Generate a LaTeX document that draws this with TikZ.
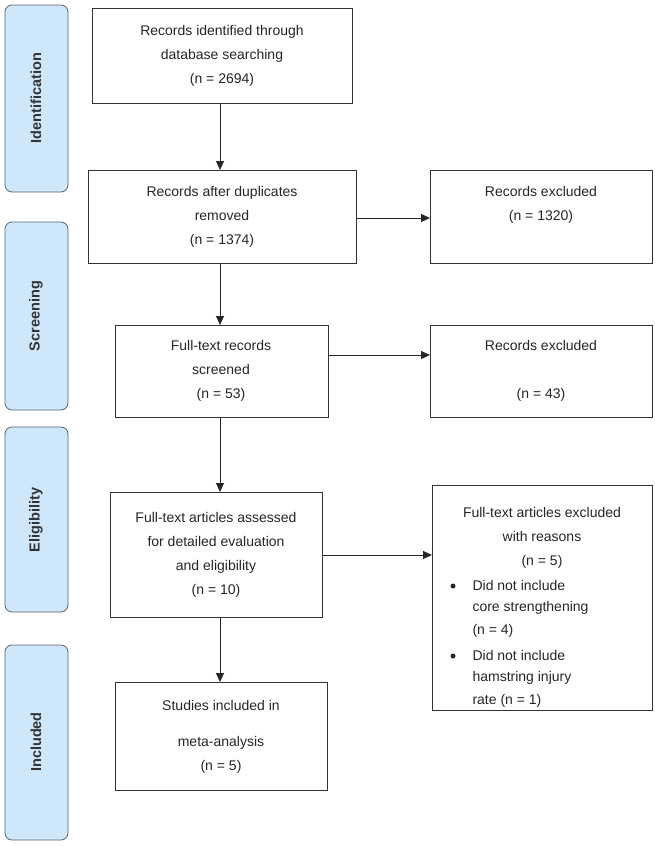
\documentclass[tikz,border=0pt]{standalone}
\usepackage{fontspec}
\setmainfont{Liberation Sans}
\usetikzlibrary{arrows.meta}
\definecolor{barblue}{RGB}{207,231,250}
\definecolor{bargray}{RGB}{90,100,115}
\begin{document}
\begin{tikzpicture}[x=1pt,y=-1pt,
  box/.style={draw=black!80,line width=0.7pt,fill=white},
  bar/.style={draw=bargray,line width=0.8pt,fill=barblue,rounded corners=7pt},
  bartext/.style={rotate=90,font=\bfseries\fontsize{14.5}{16}\selectfont,text=black!80},
  txt/.style={font=\fontsize{14}{24}\selectfont,align=center,text=black!85},
  ltxt/.style={font=\fontsize{14}{16}\selectfont,anchor=west,text=black!85},
  dot/.style={circle,fill=black!85,inner sep=0pt,minimum size=5pt},
  arr/.style={-{Triangle[length=9pt,width=8pt]},line width=0.9pt,black!85}]
\useasboundingbox (0,0) rectangle (655,846);
% side bars
\draw[bar] (5,5) rectangle (68,192); \node[bartext] (bi) at (36,98) {Identification};
\draw[bar] (5,222) rectangle (68,410); \node[bartext] (bs) at (36,316) {Screening};
\draw[bar] (5,427) rectangle (68,612); \node[bartext] (be) at (36,520) {Eligibility};
\draw[bar] (5,645) rectangle (68,840); \node[bartext] (bin) at (36,742) {Included};
% boxes
\draw[box] (92,8) rectangle (352,103);
\node[txt] (t1) at (222,56) {Records identified through\\database searching\\(n = 2694)};
\draw[box] (88,170) rectangle (356,263);
\node[txt] (t2) at (222,217) {Records after duplicates\\removed\\(n = 1374)};
\draw[box] (430,170) rectangle (652,263);
\node[txt] (t3) at (541,205) {Records excluded\\(n = 1320)};
\draw[box] (115,325) rectangle (328,417);
\node[txt] (t4) at (221,371) {Full-text records\\screened\\(n = 53)};
\draw[box] (430,325) rectangle (652,417);
\node[txt] (t5) at (541,371) {Records excluded\\\\(n = 43)};
\draw[box] (110,492) rectangle (322,617);
\node[txt] (t6) at (216,555) {Full-text articles assessed\\for detailed evaluation\\and eligibility\\(n = 10)};
\draw[box] (432,485) rectangle (652,710);
\node[txt] (t7) at (542,538) {Full-text articles excluded\\with reasons\\(n = 5)};
\node[dot] (bu1) at (453,586) {};
\node[ltxt] (l1) at (469,585) {Did not include};
\node[ltxt] (l2) at (469,608) {core strengthening};
\node[ltxt] (l3) at (469,631) {(n = 4)};
\node[dot] (bu2) at (453,656) {};
\node[ltxt] (l4) at (469,655) {Did not include};
\node[ltxt] (l5) at (469,678) {hamstring injury};
\node[ltxt] (l6) at (469,701) {rate (n = 1)};
\draw[box] (115,682) rectangle (327,790);
\node[txt] (t8a) at (221,705) {Studies included in};
\node[txt] (t8) at (221,755) {meta-analysis\\(n = 5)};
% arrows
\draw[arr] (220,103) -- (220,170);
\draw[arr] (356,218) -- (430,218);
\draw[arr] (220,263) -- (220,325);
\draw[arr] (328,355) -- (430,355);
\draw[arr] (220,417) -- (220,492);
\draw[arr] (322,555) -- (432,555);
\draw[arr] (220,617) -- (220,682);
\end{tikzpicture}
\end{document}
